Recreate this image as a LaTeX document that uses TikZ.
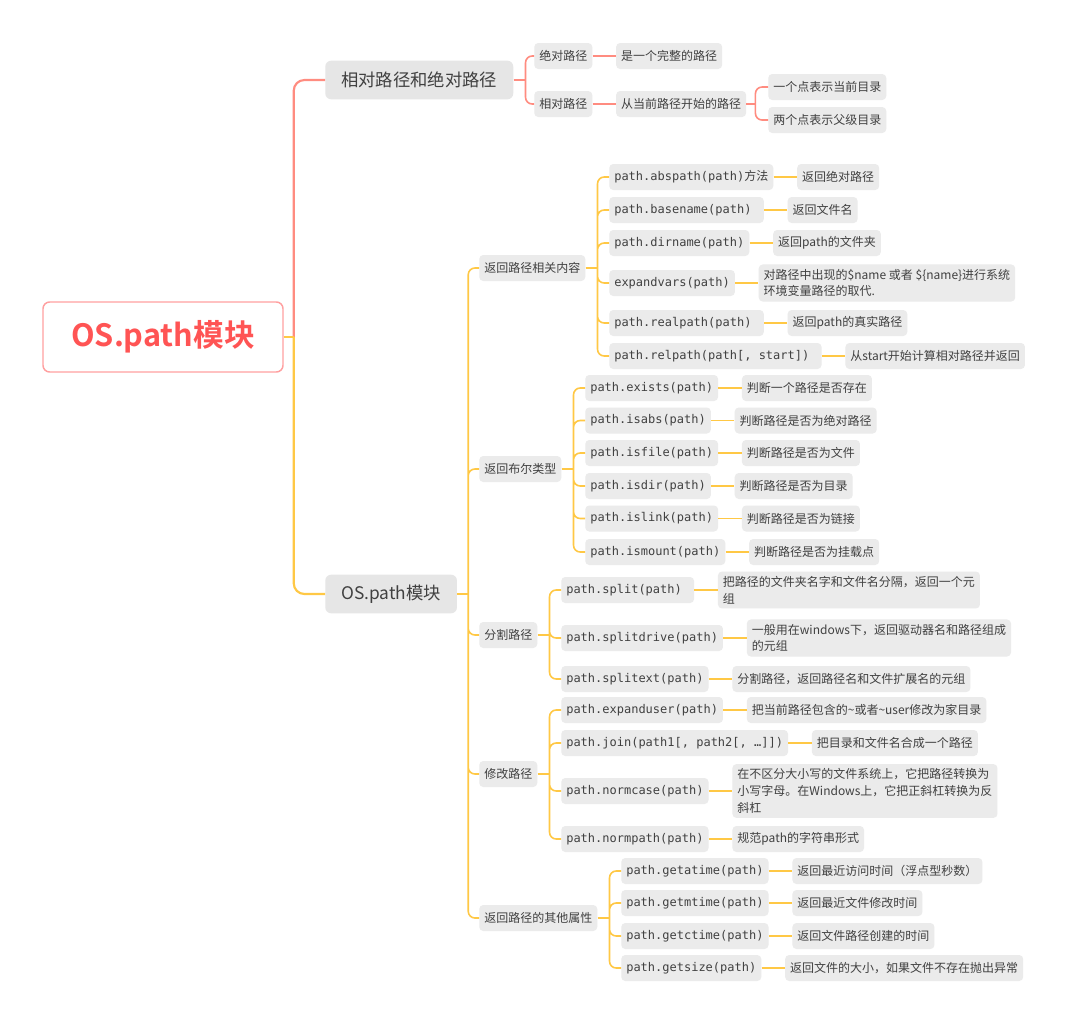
\documentclass[tikz,border=0pt]{standalone}
\usepackage{fontspec}
\setmainfont{Noto Sans CJK SC}[BoldFont={Noto Sans CJK SC Bold}]
\newfontfamily\codefont{DejaVu Sans Mono}
\usetikzlibrary{positioning,calc}

\definecolor{rootred}{HTML}{FF5454}
\definecolor{rootline}{HTML}{FFA0A0}
\definecolor{redline}{HTML}{FF8C80}
\definecolor{orangeline}{HTML}{FFC845}
\definecolor{boxgray}{HTML}{EBEBEB}
\definecolor{topicgray}{HTML}{E6E6E6}
\definecolor{inkgray}{HTML}{404040}

\tikzset{
  leaf/.style={anchor=west, fill=boxgray, text=inkgray, rounded corners=3pt,
    inner xsep=3.75pt, inner ysep=3.5pt, minimum height=19.5pt,
    align=left, font=\fontsize{9}{12.5}\selectfont},
  code/.style={leaf, font=\codefont\fontsize{9}{12.5}\selectfont},
  topic/.style={anchor=west, fill=topicgray, text=inkgray, rounded corners=4.5pt,
    inner xsep=12pt, minimum height=29pt, font=\fontsize{13}{15}\selectfont},
  rootbox/.style={draw=rootline, line width=1.1pt, fill=white, text=rootred,
    rounded corners=5pt, minimum width=180pt, minimum height=52.5pt,
    font=\bfseries\fontsize{23}{26}\selectfont},
  redl/.style={draw=redline, line width=1.2pt, rounded corners=5pt},
  orl/.style={draw=orangeline, line width=1.2pt, rounded corners=5pt},
  redmain/.style={draw=redline, line width=1.6pt, rounded corners=8pt},
  ormain/.style={draw=orangeline, line width=1.6pt, rounded corners=8pt}
}

\begin{document}
\begin{tikzpicture}[x=0.75pt,y=-0.75pt]
   \path[fill=white] (0,0) rectangle (1080,1025);
   % root and main topics
   \node (root) [rootbox] at (163,337) {OS.path模块};
   \node (rel) [topic] at (325,80) {相对路径和绝对路径};
   \node (os) [topic] at (325,594) {OS.path模块};
   % relative / absolute
   \node (absn) [leaf] at (534,56) {绝对路径};
   \node (absd) [leaf, right=17.5pt of absn] {是一个完整的路径};
   \node (reln) [leaf] at (534,104) {相对路径};
   \node (reld) [leaf, right=17.5pt of reln] {从当前路径开始的路径};
   \node (dot1) [leaf] at (768,87) {一个点表示当前目录};
   \node (dot2) [leaf] at (768,120) {两个点表示父级目录};
   % second level
   \node (ret) [leaf] at (479,268) {返回路径相关内容};
   \node (bool) [leaf] at (479,469) {返回布尔类型};
   \node (spl) [leaf] at (479,635) {分割路径};
   \node (mod) [leaf] at (479,774) {修改路径};
   \node (attr) [leaf] at (479,918) {返回路径的其他属性};
   % return path contents
   \node (r1) [code] at (609,177) {path.abspath(path){\rmfamily 方法}};
   \node (r1d) [leaf, right=17.5pt of r1] {返回绝对路径};
   \node (r2) [code] at (609,210) {path.basename(path)\ };
   \node (r2d) [leaf, right=17.5pt of r2] {返回文件名};
   \node (r3) [code] at (609,243) {path.dirname(path)};
   \node (r3d) [leaf, right=17.5pt of r3] {返回path的文件夹};
   \node (r4) [code] at (609,283) {expandvars(path)};
   \node (r4d) [leaf, right=17.5pt of r4] {对路径中出现的\$name 或者 \$\{name\}进行系统\\环境变量路径的取代.};
   \node (r5) [code] at (609,323) {path.realpath(path)\ };
   \node (r5d) [leaf, right=17.5pt of r5] {返回path的真实路径};
   \node (r6) [code] at (609,356) {path.relpath(path[, start])\ };
   \node (r6d) [leaf, right=17.5pt of r6] {从start开始计算相对路径并返回};
   % boolean
   \node (b1) [code] at (585,388) {path.exists(path)};
   \node (b1d) [leaf, right=17.5pt of b1] {判断一个路径是否存在};
   \node (b2) [code] at (585,420.5) {path.isabs(path)};
   \node (b2d) [leaf, right=17.5pt of b2] {判断路径是否为绝对路径};
   \node (b3) [code] at (585,453) {path.isfile(path)};
   \node (b3d) [leaf, right=17.5pt of b3] {判断路径是否为文件};
   \node (b4) [code] at (585,486) {path.isdir(path)};
   \node (b4d) [leaf, right=17.5pt of b4] {判断路径是否为目录};
   \node (b5) [code] at (585,518.5) {path.islink(path)};
   \node (b5d) [leaf, right=17.5pt of b5] {判断路径是否为链接};
   \node (b6) [code] at (585,552) {path.ismount(path)};
   \node (b6d) [leaf, right=17.5pt of b6] {判断路径是否为挂载点};
   % split
   \node (s1) [code] at (561,590) {path.split(path)\ };
   \node (s1d) [leaf, right=17.5pt of s1] {把路径的文件夹名字和文件名分隔，返回一个元\\组};
   \node (s2) [code] at (561,638) {path.splitdrive(path)};
   \node (s2d) [leaf, right=17.5pt of s2] {一般用在windows下，返回驱动器名和路径组成\\的元组};
   \node (s3) [code] at (561,679) {path.splitext(path)};
   \node (s3d) [leaf, right=17.5pt of s3] {分割路径，返回路径名和文件扩展名的元组};
   % modify
   \node (m1) [code] at (561,710) {path.expanduser(path)};
   \node (m1d) [leaf, right=17.5pt of m1] {把当前路径包含的\textasciitilde 或者\textasciitilde user修改为家目录};
   \node (m2) [code] at (561,743) {path.join(path1[, path2[, …]])};
   \node (m2d) [leaf, right=17.5pt of m2] {把目录和文件名合成一个路径};
   \node (m3) [code] at (561,791) {path.normcase(path)};
   \node (m3d) [leaf, right=17.5pt of m3] {在不区分大小写的文件系统上，它把路径转换为\\小写字母。在Windows上，它把正斜杠转换为反\\斜杠};
   \node (m4) [code] at (561,839) {path.normpath(path)};
   \node (m4d) [leaf, right=17.5pt of m4] {规范path的字符串形式};
   % other attributes
   \node (a1) [code] at (621,871) {path.getatime(path)};
   \node (a1d) [leaf, right=17.5pt of a1] {返回最近访问时间（浮点型秒数）};
   \node (a2) [code] at (621,903) {path.getmtime(path)};
   \node (a2d) [leaf, right=17.5pt of a2] {返回最近文件修改时间};
   \node (a3) [code] at (621,936) {path.getctime(path)};
   \node (a3d) [leaf, right=17.5pt of a3] {返回文件路径创建的时间};
   \node (a4) [code] at (621,968) {path.getsize(path)};
   \node (a4d) [leaf, right=17.5pt of a4] {返回文件的大小，如果文件不存在抛出异常};
   % connectors
   \coordinate (ms) at ($(root.east)+(10,0)$);
   \draw[redmain] (ms) |- (rel.west);
   \draw[ormain] (ms) |- (os.west);
   \draw[ormain] (root.east) -- (ms);
   \coordinate (rs) at ($(rel.east)+(12,0)$);
   \draw[redl] (rel.east) -- (rs);
   \draw[redl] (rs) |- (absn.west) (rs) |- (reln.west);
   \draw[redl] (absn.east) -- (absd.west) (reln.east) -- (reld.west);
   \coordinate (ds) at ($(reld.east)+(9,0)$);
   \draw[redl] (reld.east) -- (ds);
   \draw[redl] (ds) |- (dot1.west) (ds) |- (dot2.west);
   \coordinate (os2) at ($(os.east)+(11,0)$);
   \draw[ormain] (os.east) -- (os2);
   \draw[orl] (os2) |- (ret.west) (os2) |- (bool.west) (os2) |- (spl.west)
              (os2) |- (mod.west) (os2) |- (attr.west);
   \coordinate (rets) at ($(ret.east)+(12,0)$);
   \draw[orl] (ret.east) -- (rets);
   \draw[orl] (rets) |- (r1.west) (rets) |- (r2.west) (rets) |- (r3.west)
              (rets) |- (r4.west) (rets) |- (r5.west) (rets) |- (r6.west);
   \coordinate (bools) at ($(bool.east)+(12,0)$);
   \draw[orl] (bool.east) -- (bools);
   \draw[orl] (bools) |- (b1.west) (bools) |- (b2.west) (bools) |- (b3.west)
              (bools) |- (b4.west) (bools) |- (b5.west) (bools) |- (b6.west);
   \coordinate (spls) at ($(spl.east)+(12,0)$);
   \draw[orl] (spl.east) -- (spls);
   \draw[orl] (spls) |- (s1.west) (spls) |- (s2.west) (spls) |- (s3.west);
   \coordinate (mods) at ($(mod.east)+(12,0)$);
   \draw[orl] (mod.east) -- (mods);
   \draw[orl] (mods) |- (m1.west) (mods) |- (m2.west) (mods) |- (m3.west)
              (mods) |- (m4.west);
   \coordinate (attrs) at ($(attr.east)+(12,0)$);
   \draw[orl] (attr.east) -- (attrs);
   \draw[orl] (attrs) |- (a1.west) (attrs) |- (a2.west) (attrs) |- (a3.west)
              (attrs) |- (a4.west);
   \draw[orl] (r1.east) -- (r1d.west) (r2.east) -- (r2d.west) (r3.east) -- (r3d.west)
              (r4.east) -- (r4d.west) (r5.east) -- (r5d.west) (r6.east) -- (r6d.west);
   \draw[orl] (b1.east) -- (b1d.west) (b2.east) -- (b2d.west) (b3.east) -- (b3d.west)
              (b4.east) -- (b4d.west) (b5.east) -- (b5d.west) (b6.east) -- (b6d.west);
   \draw[orl] (s1.east) -- (s1d.west) (s2.east) -- (s2d.west) (s3.east) -- (s3d.west);
   \draw[orl] (m1.east) -- (m1d.west) (m2.east) -- (m2d.west) (m3.east) -- (m3d.west)
              (m4.east) -- (m4d.west);
   \draw[orl] (a1.east) -- (a1d.west) (a2.east) -- (a2d.west) (a3.east) -- (a3d.west)
              (a4.east) -- (a4d.west);
\end{tikzpicture}
\end{document}
